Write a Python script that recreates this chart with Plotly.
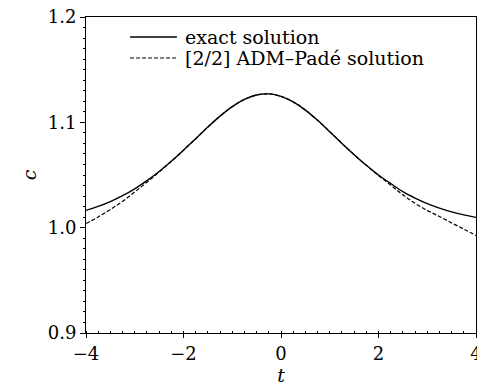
import plotly.graph_objects as go

t = [-4.0, -3.75, -3.5, -3.25, -3.0, -2.75, -2.5, -2.25, -2.0, -1.75, -1.5, -1.25,
     -1.0, -0.75, -0.5, -0.25, 0.0, 0.25, 0.5, 0.75, 1.0, 1.25, 1.5, 1.75,
     2.0, 2.25, 2.5, 2.75, 3.0, 3.25, 3.5, 3.75, 4.0]

exact = [1.0164, 1.0202, 1.0248, 1.0304, 1.0369, 1.0446, 1.0533, 1.0630, 1.0735,
         1.0845, 1.0956, 1.1059, 1.1149, 1.1218, 1.1260, 1.1270, 1.1247, 1.1194,
         1.1116, 1.1019, 1.0911, 1.0800, 1.0693, 1.0592, 1.0500, 1.0419, 1.0342,
         1.0281, 1.0229, 1.0186, 1.0150, 1.0121, 1.0098]

pade = [1.0039, 1.0102, 1.0173, 1.0249, 1.0339, 1.0431, 1.0528, 1.0630, 1.0735,
        1.0845, 1.0956, 1.1059, 1.1149, 1.1218, 1.1260, 1.1270, 1.1247, 1.1194,
        1.1116, 1.1019, 1.0911, 1.0800, 1.0693, 1.0592, 1.0495, 1.0404, 1.0312,
        1.0231, 1.0164, 1.0106, 1.0045, 0.9986, 0.9925]

series_names = ["exact solution", "[2/2] ADM–Padé solution"]

x_ticks = [-4, -2, 0, 2, 4]
x_tick_text = ["−4", "−2", "0", "2", "4"]
y_ticks = [0.9, 1.0, 1.1, 1.2]
y_tick_text = ["0.9", "1.0", "1.1", "1.2"]

FONT = "DejaVu Serif"
styles = [dict(color="black", width=1.4), dict(color="black", width=1.2, dash="4px,2px")]

fig = go.Figure()
for name, ys, st in zip(series_names, [exact, pade], styles):
    fig.add_trace(go.Scatter(x=t, y=ys, mode="lines", name=name,
                             line=dict(shape="spline", **st), showlegend=False))

# manual legend (keys + labels) in paper coordinates
leg_y = [0.9367, 0.8703]
for name, st, yy in zip(series_names, styles, leg_y):
    fig.add_shape(type="line", xref="paper", yref="paper", x0=0.113, x1=0.233,
                  y0=yy, y1=yy, line=st)
    fig.add_annotation(xref="paper", yref="paper", x=0.249, y=yy, text=name,
                       showarrow=False, xanchor="left", yanchor="middle",
                       font=dict(family=FONT, size=19, color="black"))

fig.update_layout(
    width=477, height=387,
    margin=dict(l=86, r=1, t=17, b=54),
    paper_bgcolor="white", plot_bgcolor="white",
    font=dict(family=FONT, color="black", size=18),
    xaxis=dict(range=[-4, 4], tickvals=x_ticks, ticktext=x_tick_text,
               ticklabeloverflow="allow", automargin=False,
               showgrid=False, zeroline=False, showline=True, linecolor="black",
               linewidth=1, mirror=True, ticks="outside", ticklen=4, tickcolor="black",
               tickfont=dict(family=FONT, size=18),
               minor=dict(dtick=0.25, ticks="inside", ticklen=2, tickcolor="black"),
               title=dict(text="<i>t</i>", font=dict(family=FONT, size=19), standoff=4)),
    yaxis=dict(range=[0.9, 1.2], tickvals=y_ticks, ticktext=y_tick_text,
               automargin=False,
               showgrid=False, zeroline=False, showline=True, linecolor="black",
               linewidth=1, mirror=True, ticks="outside", ticklen=5, tickcolor="black",
               tickfont=dict(family=FONT, size=18),
               minor=dict(dtick=0.01, ticks="outside", ticklen=2.5, tickcolor="black"),
               title=dict(text="<i>c</i>", font=dict(family=FONT, size=19), standoff=6)),
)

fig.write_html("out.html")
